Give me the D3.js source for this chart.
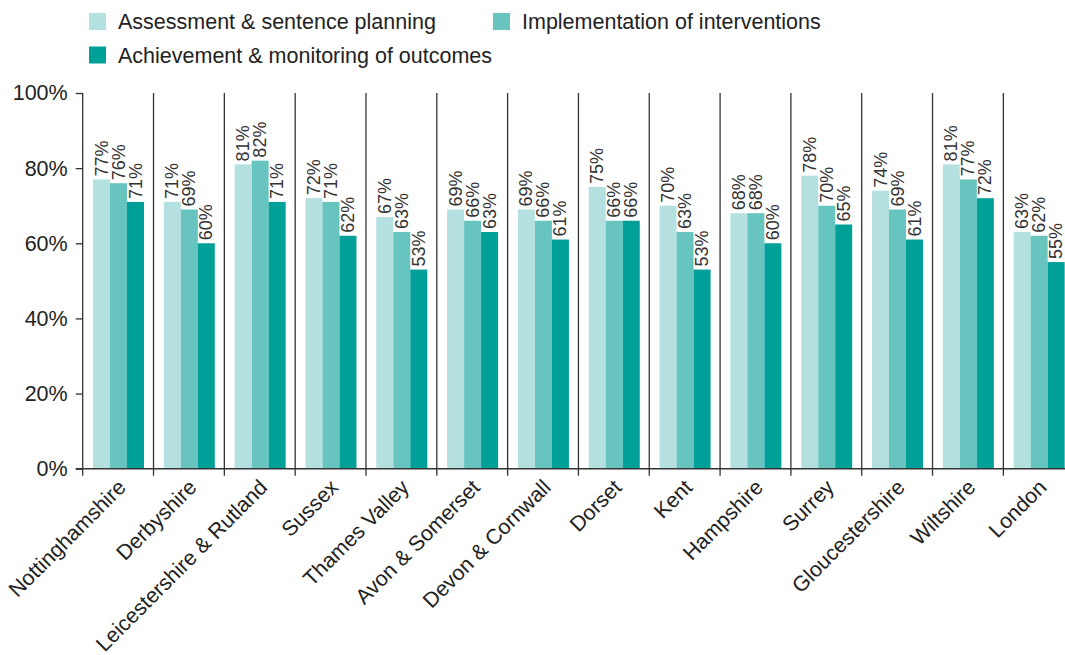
<!DOCTYPE html>
<html>
<head>
<meta charset="utf-8">
<script src="https://cdn.jsdelivr.net/npm/d3@7"></script>
<style>
  html, body { margin: 0; padding: 0; background: #fff; }
  svg { display: block; font-family: "Liberation Sans", Arial, sans-serif; }
</style>
</head>
<body>
<svg id="chart" width="1065" height="655"></svg>
<script>
// Probation areas and their three inspection scores (%)
const areas = ["Nottinghamshire", "Derbyshire", "Leicestershire & Rutland", "Sussex",
  "Thames Valley", "Avon & Somerset", "Devon & Cornwall", "Dorset", "Kent",
  "Hampshire", "Surrey", "Gloucestershire", "Wiltshire", "London"];
const seriesNames = ["Assessment & sentence planning", "Implementation of interventions",
  "Achievement & monitoring of outcomes"];
const assessment     = [77, 71, 81, 72, 67, 69, 69, 75, 70, 68, 78, 74, 81, 63];
const implementation = [76, 69, 82, 71, 63, 66, 66, 66, 63, 68, 70, 69, 77, 62];
const achievement    = [71, 60, 71, 62, 53, 63, 61, 66, 53, 60, 65, 61, 72, 55];
const yTicks = [0, 20, 40, 60, 80, 100];
const colors = ["#b4e1e0", "#67c4bf", "#009f98"];

const seriesValues = [assessment, implementation, achievement];
const rows = areas.map((a, i) => ({ area: a, values: seriesValues.map(s => s[i]) }));

const svg = d3.select("#chart");
const plotLeft = 82.7, plotTop = 93, plotBottom = 468.7, bandW = 70.82;

const x = d3.scaleBand().domain(areas).range([plotLeft, plotLeft + bandW * areas.length]).padding(0);
const xi = d3.scaleBand().domain(d3.range(3)).range([10.3, 61.3]).padding(0);
const y = d3.scaleLinear().domain([0, 100]).range([plotBottom, plotTop]);

const ink = "#222";
const lineCol = "#333";

// Category separators (also serve as x ticks), extending below the baseline
svg.append("g").selectAll("line")
  .data(areas)
  .join("line")
  .attr("x1", d => x(d) + x.bandwidth())
  .attr("x2", d => x(d) + x.bandwidth())
  .attr("y1", plotTop).attr("y2", plotBottom + 7)
  .attr("stroke", lineCol).attr("stroke-width", 1.3);

// Bars
const groups = svg.append("g").selectAll("g")
  .data(rows).join("g")
  .attr("transform", d => `translate(${x(d.area)},0)`);

groups.selectAll("rect")
  .data(d => d.values.map((v, k) => ({ v, k })))
  .join("rect")
  .attr("x", d => xi(d.k))
  .attr("width", xi.bandwidth())
  .attr("y", d => y(d.v))
  .attr("height", d => plotBottom - y(d.v))
  .attr("fill", d => colors[d.k]);

// Value labels, rotated upward above each bar
groups.selectAll("text")
  .data(d => d.values.map((v, k) => ({ v, k })))
  .join("text")
  .attr("transform", d => `translate(${xi(d.k) + xi.bandwidth() / 2 + 6},${y(d.v) - 3}) rotate(-90)`)
  .attr("text-anchor", "start")
  .attr("font-size", 18)
  .attr("fill", "#333")
  .text(d => d.v + "%");

// Y axis
const yAxis = d3.axisLeft(y).tickValues(yTicks).tickFormat(d => d + "%").tickSize(7).tickPadding(8);
const yg = svg.append("g").attr("transform", `translate(${plotLeft},0)`).call(yAxis);
yg.select(".domain").remove();
yg.selectAll(".tick line").attr("stroke", lineCol).attr("stroke-width", 1.3);
yg.selectAll(".tick text").attr("font-size", 21.5).attr("fill", ink)
  .attr("font-family", "Liberation Sans, Arial, sans-serif");
svg.append("line")
  .attr("x1", plotLeft).attr("x2", plotLeft).attr("y1", plotTop).attr("y2", plotBottom + 7)
  .attr("stroke", lineCol).attr("stroke-width", 1.3);

// Baseline
svg.append("line")
  .attr("x1", plotLeft - 7).attr("x2", 1065).attr("y1", plotBottom).attr("y2", plotBottom)
  .attr("stroke", lineCol).attr("stroke-width", 1.5);

// Category labels, slanted
svg.append("g").selectAll("text")
  .data(areas).join("text")
  .attr("transform", d => `translate(${x(d) + x.bandwidth() / 2 + 9},${plotBottom + 20}) rotate(-45)`)
  .attr("text-anchor", "end")
  .attr("font-size", 21.3)
  .attr("fill", ink)
  .text(d => d);

// Legend
const legendPos = [[89, 21.5], [493, 21.5], [89, 55]];
const lg = svg.append("g").selectAll("g")
  .data(seriesNames).join("g")
  .attr("transform", (d, i) => `translate(${legendPos[i][0]},${legendPos[i][1]})`);
lg.append("rect").attr("x", 0).attr("y", -8.5).attr("width", 17).attr("height", 17)
  .attr("fill", (d, i) => colors[i]);
lg.append("text").attr("x", 29).attr("y", 0).attr("dy", "0.35em")
  .attr("font-size", 21.5).attr("fill", ink).text(d => d);
</script>
</body>
</html>
